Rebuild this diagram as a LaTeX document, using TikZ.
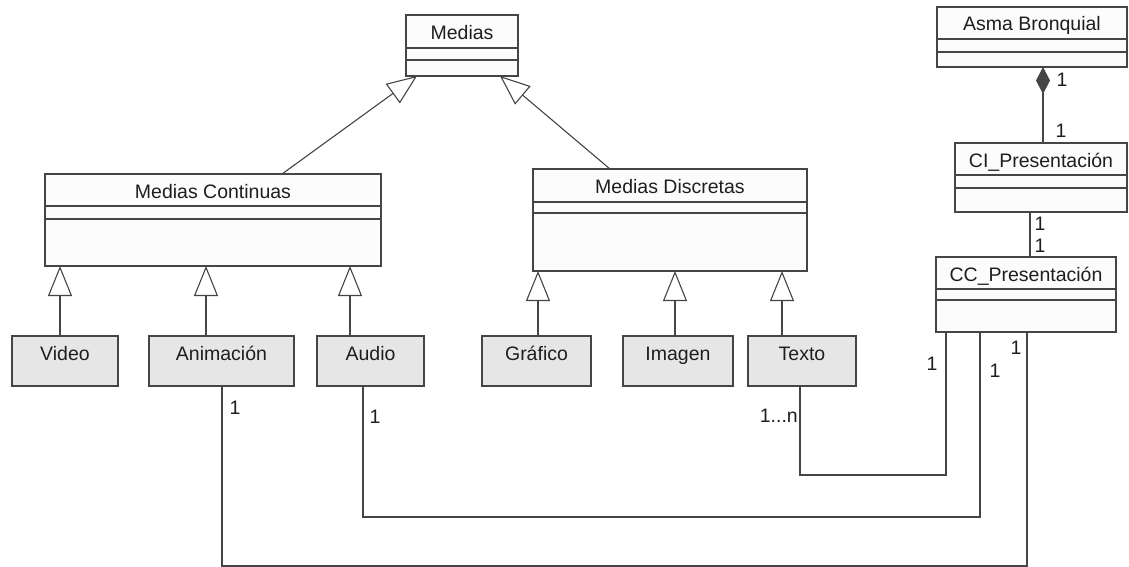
\documentclass[tikz,border=0pt]{standalone}
\usepackage{fontspec}
\setmainfont{Liberation Sans}
\usetikzlibrary{arrows.meta}

\definecolor{edge}{HTML}{454545}
\definecolor{boxfill}{HTML}{FCFCFC}
\definecolor{leaffill}{HTML}{E6E6E6}
\definecolor{ink}{HTML}{1E1E1E}

\tikzset{
  umlbox/.style={draw=edge, line width=1.1pt, fill=boxfill, inner sep=0pt, outer sep=0pt, anchor=north west},
  leafbox/.style={umlbox, fill=leaffill},
  lbl/.style={font=\fontsize{19.5}{22}\selectfont, text=ink, inner sep=0pt},
  title/.style={lbl, anchor=base},
  link/.style={draw=edge, line width=1.1pt},
  inherit/.style={link, -{Triangle[length=30pt,width=24pt,fill=white,line width=1.1pt]}},
  compose/.style={link, -{Diamond[length=27pt,width=14pt,fill=edge,line width=1.1pt]}},
}

% class with name, attribute and operation compartments:
% #1 name, #2 left, #3 top, #4 right, #5 bottom, #6 first divider, #7 second divider, #8 title
\newcommand\classbox[8]{%
  \node[umlbox, minimum width={#4-#2}, minimum height={#5-#3}] (#1) at (#2,#3) {};
  \draw[link] (#1.west |- 0,#6) -- (#1.east |- 0,#6);
  \draw[link] (#1.west |- 0,#7) -- (#1.east |- 0,#7);
  \node[title] (#1-title) at ({(#2+#4)/2},{(#3+#6)/2+8}) {#8};
}
% leaf class drawn as a single grey box: #1 name, #2 left, #3 top, #4 right, #5 bottom, #6 title
\newcommand\leafclass[6]{%
  \node[leafbox, minimum width={#4-#2}, minimum height={#5-#3}] (#1) at (#2,#3) {};
  \node[title] (#1-title) at ({(#2+#4)/2},{#3+24}) {#6};
}

\begin{document}
\begin{tikzpicture}[x=1pt,y=-1pt]
\useasboundingbox[fill=white] (0,0) rectangle (1129,567);

% classes
\classbox{medias}{406}{15}{518}{76}{48}{60}{Medias}
\classbox{mc}{45}{174}{381}{266}{206}{219}{Medias Continuas}
\classbox{md}{533}{169}{807}{271}{202}{213}{Medias Discretas}
\classbox{asma}{937}{7}{1127}{67}{39}{52}{Asma Bronquial}
\classbox{ci}{955}{143}{1127}{212}{175}{188}{CI\_Presentación}
\classbox{cc}{936}{257}{1116}{332}{289}{300}{CC\_Presentación}

\leafclass{video}{12}{336}{118}{386}{Video}
\leafclass{anim}{149}{336}{294}{386}{Animación}
\leafclass{audio}{317}{336}{424}{386}{Audio}
\leafclass{graf}{482}{336}{591}{386}{Gráfico}
\leafclass{imagen}{623}{336}{733}{386}{Imagen}
\leafclass{texto}{748}{336}{856}{386}{Texto}

% generalisations
\draw[inherit] (mc.north -| 282,0) -- (medias.south -| 417,0);
\draw[inherit] (md.north -| 610,0) -- (medias.south -| 500,0);
\draw[inherit] (video.north -| 60,0) -- (mc.south -| 60,0);
\draw[inherit] (anim.north -| 206,0) -- (mc.south -| 206,0);
\draw[inherit] (audio.north -| 350,0) -- (mc.south -| 350,0);
\draw[inherit] (graf.north -| 538,0) -- (md.south -| 538,0);
\draw[inherit] (imagen.north -| 675,0) -- (md.south -| 675,0);
\draw[inherit] (texto.north -| 782,0) -- (md.south -| 782,0);

% composition and associations on the right
\draw[compose] (ci.north -| 1043,0) -- (asma.south -| 1043,0);
\node[lbl] (m-asma) at (1062,80) {1};
\node[lbl] (m-ci-top) at (1061,131) {1};

\draw[link] (ci.south -| 1030,0) -- (cc.north -| 1030,0);
\node[lbl] (m-ci-bot) at (1040,224) {1};
\node[lbl] (m-cc-top) at (1040,246) {1};

% associations from the media leaves to CC_Presentación
\draw[link] (texto.south -| 800,0) -- (800,475) -| (cc.south -| 946,0);
\node[lbl, anchor=east] (m-texto) at (798,416) {1...n};
\node[lbl] (m-cc-texto) at (932,364) {1};

\draw[link] (audio.south -| 363,0) -- (363,517) -| (cc.south -| 980,0);
\node[lbl] (m-audio) at (375,417) {1};
\node[lbl] (m-cc-audio) at (995,371) {1};

\draw[link] (anim.south -| 222,0) -- (222,566) -| (cc.south -| 1027,0);
\node[lbl] (m-anim) at (235,408) {1};
\node[lbl] (m-cc-anim) at (1016,348) {1};
\end{tikzpicture}
\end{document}
